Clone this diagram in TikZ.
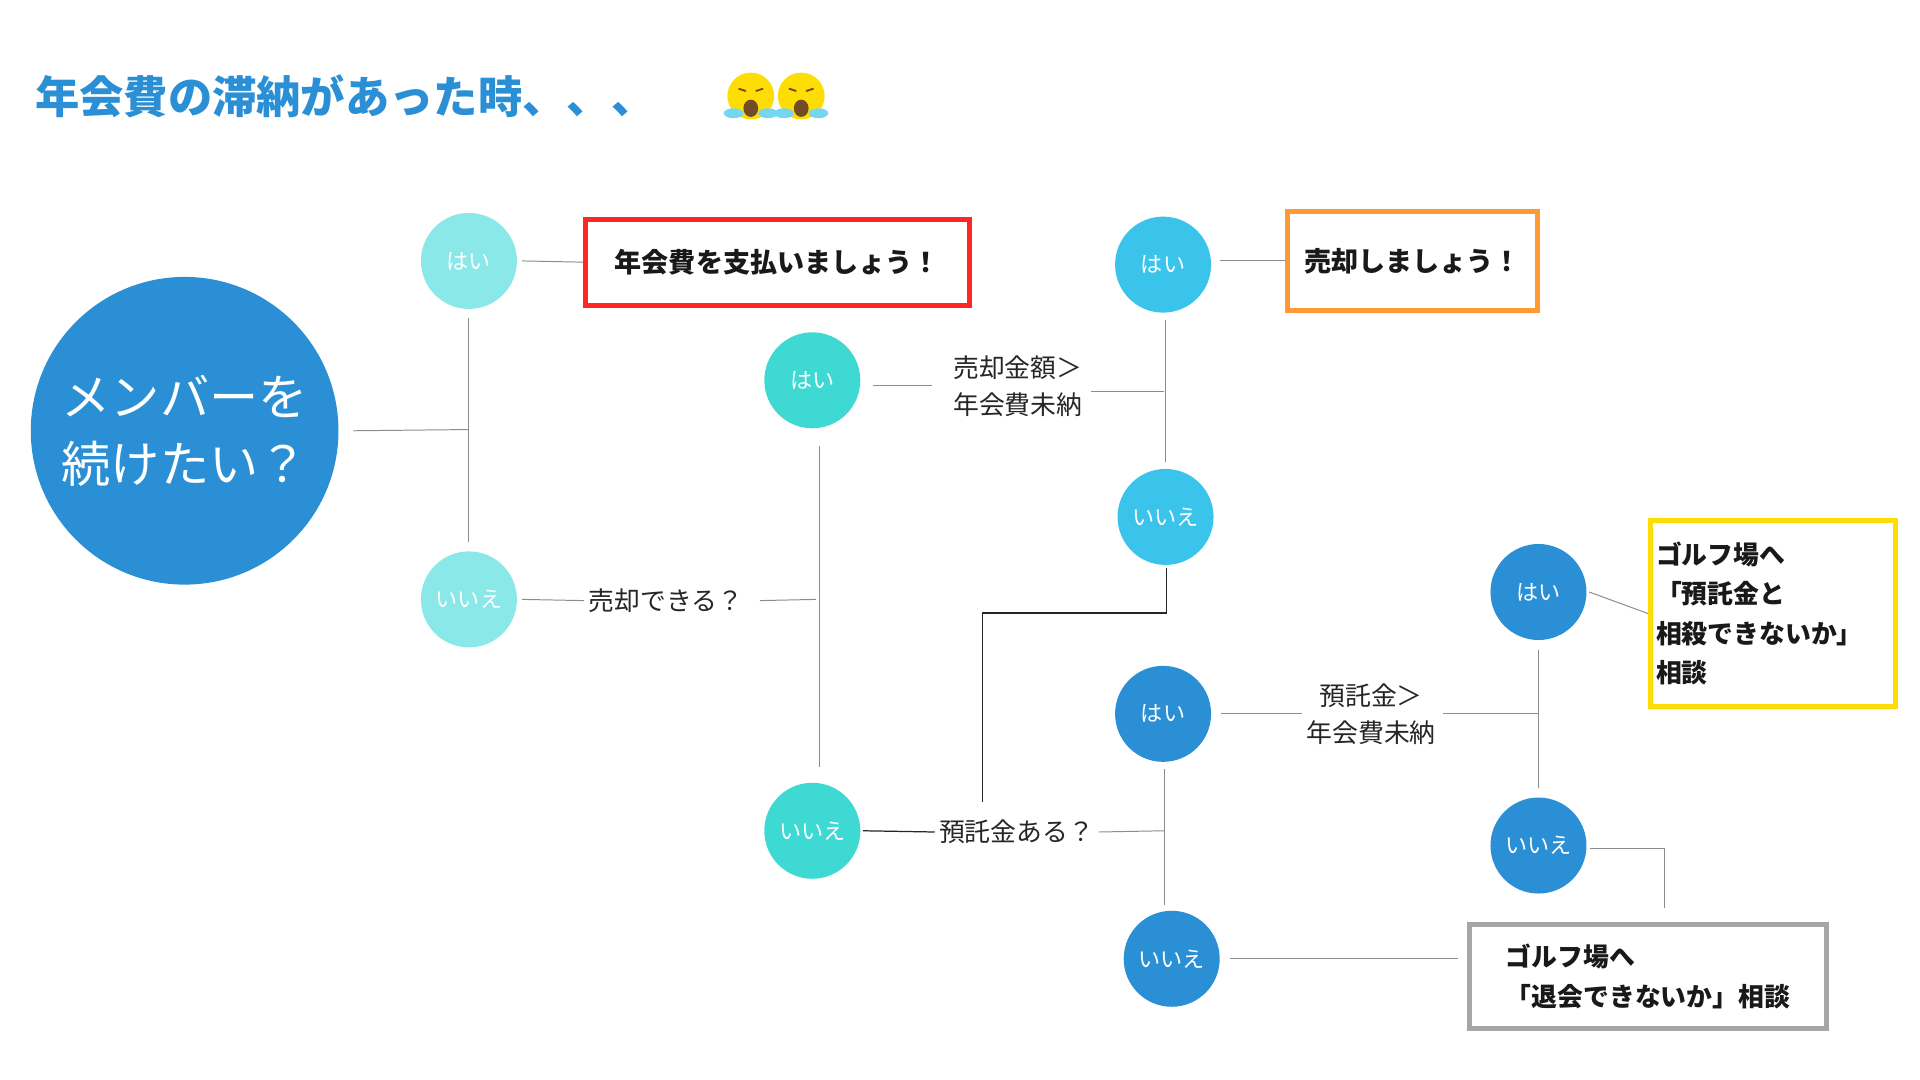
\documentclass[tikz,border=0pt]{standalone}
\usepackage{fontspec}
\setmainfont{Noto Sans CJK JP}
\newfontfamily\jpb{Noto Sans CJK JP}[BoldFont=*]
\begin{document}
\begin{tikzpicture}[x=1pt,y=-1pt,
  circ/.style={circle,minimum size=78pt,inner sep=0pt,text=white,font=\fontsize{18}{20}\selectfont},
  lab/.style={font=\fontsize{21}{30}\selectfont,align=center,text=black!85},
  box/.style={draw,line width=4pt,font=\bfseries\fontsize{22}{32}\selectfont,text=black!90},
  ln/.style={draw=black!45,line width=0.8pt}]
\definecolor{c1}{HTML}{8AE8E8}\definecolor{c2}{HTML}{3FD9D4}
\definecolor{c3}{HTML}{3AC4EC}\definecolor{c4}{HTML}{2B8FD5}
\useasboundingbox (0,0) rectangle (1560,877);
\fill[white] (0,0) rectangle (1560,877);
\node[anchor=west,text=c4,font=\bfseries\fontsize{36}{40}\selectfont] (title) at (25,78) {年会費の滞納があった時、、、};
\foreach \x/\n in {610/e1,651/e2}{
  \fill[yellow!80!orange] (\x,78) circle (19);
  \fill[c3!70] (\x-14,92) ellipse (8 and 4); \fill[c3!70] (\x+14,92) ellipse (8 and 4);
  \fill[brown!60!black] (\x,88) ellipse (6 and 7);
  \draw[brown!60!black,line width=1.5pt] (\x-10,72)--(\x-4,74) (\x+4,74)--(\x+10,72);}
\node[circle,fill=c4,minimum size=250pt,inner sep=0pt,text=white,align=center,font=\fontsize{40}{54}\selectfont] (m) at (150,350) {メンバーを\\続けたい？};
\node[circ,fill=c1] (A) at (381,212) {はい};
\node[circ,fill=c1] (B) at (381,487) {いいえ};
\node[circ,fill=c2] (C) at (660,309) {はい};
\node[circ,fill=c2] (D) at (660,675) {いいえ};
\node[circ,fill=c3] (E) at (945,215) {はい};
\node[circ,fill=c3] (F) at (947,420) {いいえ};
\node[circ,fill=c4] (G) at (945,580) {はい};
\node[circ,fill=c4] (H) at (952,779) {いいえ};
\node[circ,fill=c4] (I) at (1250,481) {はい};
\node[circ,fill=c4] (J) at (1250,687) {いいえ};
\node[box,draw=red!85,minimum width=312pt,minimum height=70pt] (b1) at (631.5,213) {年会費を支払いましょう！};
\node[box,draw=orange!80,minimum width=203pt,minimum height=80pt] (b2) at (1147.5,212) {売却しましょう！};
\node[box,draw=yellow!80!orange,minimum width=199pt,minimum height=151pt,align=left,text width=190pt,font=\bfseries\fontsize{21}{32}\selectfont] (b3) at (1440.5,498.5) {ゴルフ場へ\\「預託金と\\相殺できないか」\\相談};
\node[box,draw=black!35,minimum width=290pt,minimum height=85pt,align=left,font=\bfseries\fontsize{21}{32}\selectfont] (b4) at (1339,793.5) {ゴルフ場へ\\「退会できないか」相談};
\node[lab] (l1) at (541,488) {売却できる？};
\node[lab] (l2) at (827,314) {売却金額＞\\年会費未納};
\node[lab] (l3) at (826,676) {預託金ある？};
\node[lab] (l4) at (1114,580) {預託金＞\\年会費未納};
\coordinate (j1) at (381,349);
\draw[ln] (m.east)++(12,0) -- (j1);
\draw[ln] (A.south)++(0,7) -- (381,440);
\draw[ln] (A.east)++(4,0) -- (b1.west);
\draw[ln] (B.east)++(4,0) -- (l1.west);
\draw[ln] (l1.east)++(10,0) -- (663,487);
\draw[ln] (666,362) -- (666,623);
\draw[ln] (C.east)++(10,4) -- (757,313);
\draw[ln] (l2.east)++(3,4) -- (946,318);
\draw[ln] (947,260) -- (947,375);
\draw[ln] (E.east)++(7,-3) -- (b2.west);
\draw[black!85,line width=1pt] (F.south)++(1,2) |- (798,498) -- (798,652);
\draw[black!85,line width=1pt] (D.east)++(2,0) -- (l3.west);
\draw[ln] (l3.east) -- (946,675);
\draw[ln] (946,625) -- (946,735);
\draw[ln] (G.east)++(8,0) -- (l4.west);
\draw[ln] (l4.east)++(2,0) -- (1250,580);
\draw[ln] (1250,528) -- (1250,640);
\draw[ln] (I.east)++(2,0) -- (b3.west);
\draw[ln] (J.east)++(3,2) -- (1352,689) -- (1352,738);
\draw[ln] (H.east)++(8,0) -- (1185,779);
\end{tikzpicture}
\end{document}
